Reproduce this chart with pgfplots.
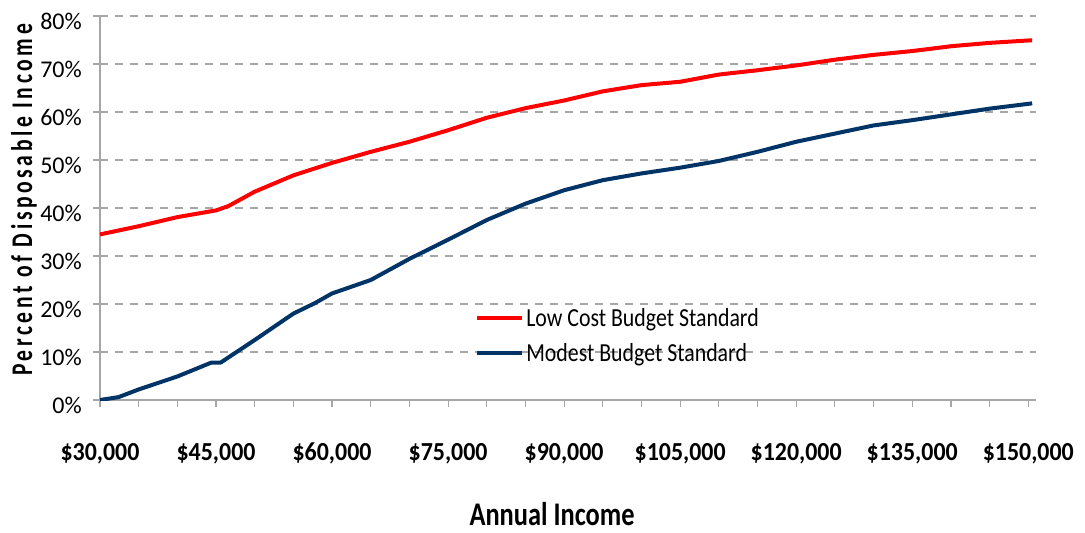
\documentclass[border=0pt]{standalone}
\usepackage{pgfplots}
\pgfplotsset{compat=1.18}
\usepackage{fontspec}
\setmainfont{Carlito}
\newfontfamily\ytickfont{Carlito}
\newfontfamily\xtickfont{Carlito}[FakeStretch=0.92]
\newfontfamily\legfont{Carlito}[FakeStretch=0.84]
\newfontfamily\xlabfont{Carlito}[FakeStretch=0.8]
\newfontfamily\ylabfont{Carlito}[FakeStretch=0.72, LetterSpace=12]

\definecolor{lowred}{RGB}{255,0,0}
\definecolor{modblue}{RGB}{0,51,102}
\definecolor{axisgray}{RGB}{166,166,166}

% percent of disposable income
\pgfplotstableread{
income  pct
30000   34.5
35000   36.2
40000   38.1
45000   39.5
46600   40.4
50000   43.4
55000   46.8
60000   49.4
65000   51.7
70000   53.8
75000   56.2
80000   58.8
85000   60.8
90000   62.4
95000   64.3
100000  65.6
105000  66.3
110000  67.8
115000  68.7
120000  69.7
125000  70.9
130000  71.9
135000  72.7
140000  73.7
145000  74.4
150000  74.9
150500  74.9
}\lowcost

\pgfplotstableread{
income  pct
30000   0.0
32400   0.6
35000   2.2
40000   4.9
44400   7.8
45600   7.8
50000   12.5
55000   18.0
57800   20.2
60000   22.2
65000   25.0
70000   29.4
75000   33.4
80000   37.5
85000   40.9
90000   43.7
95000   45.8
100000  47.2
105000  48.4
110000  49.8
115000  51.7
120000  53.8
125000  55.5
130000  57.2
135000  58.3
140000  59.5
145000  60.7
150000  61.7
150500  61.8
}\modest

\begin{document}
\begin{tikzpicture}
\begin{axis}[
  scale only axis,
  width=936pt, height=384pt,
  xmin=30000, xmax=151000,
  ymin=0, ymax=80,
  axis lines=left,
  axis line style={-, draw=axisgray, line width=1.2pt},
  tick align=outside,
  major tick length=7pt, minor tick length=7pt,
  tick style={draw=axisgray, line width=1.2pt},
  scaled x ticks=false,
  xtick={30000,45000,...,150000},
  minor x tick num=2,
  xticklabels={{\$30,000},{\$45,000},{\$60,000},{\$75,000},{\$90,000},{\$105,000},{\$120,000},{\$135,000},{\$150,000}},
  ytick={0,10,...,80},
  yticklabels={0\%,10\%,20\%,30\%,40\%,50\%,60\%,70\%,80\%},
  x tick label style={font={\fontsize{26}{30}\selectfont\xtickfont\bfseries}, anchor=base, yshift=-53pt, inner sep=0pt},
  y tick label style={font={\fontsize{24}{28}\selectfont\ytickfont}, anchor=base east, xshift=-11pt, yshift=-13pt, inner sep=0pt},
  ymajorgrids,
  grid style={draw=axisgray, line width=1.2pt, dash pattern=on 8pt off 7pt},
  xlabel={Annual Income},
  xlabel style={at={(axis description cs:0.483,-0.328)}, anchor=base, inner sep=0pt,
    font={\fontsize{33}{38}\selectfont\xlabfont\bfseries}},
  ylabel={Percent of Disposable Income},
  ylabel style={at={(axis description cs:-0.0724,0.521)}, anchor=base, inner sep=0pt,
    font={\fontsize{30}{34}\selectfont\ylabfont\bfseries}},
  legend style={draw=none, fill=none, at={(axis description cs:0.4007,0.245)}, anchor=north west,
    font={\fontsize{26}{30}\selectfont\legfont}, row sep=12pt, inner sep=0pt},
  legend cell align=left,
  legend image code/.code={\draw[#1] (0pt,0pt) -- (45pt,0pt);},
]
\addplot[lowred, line width=4pt, line join=round] table[x=income, y=pct] {\lowcost};
\addlegendentry{Low Cost Budget Standard}
\addplot[modblue, line width=4pt, line join=round] table[x=income, y=pct] {\modest};
\addlegendentry{Modest Budget Standard}
\end{axis}
\pgfresetboundingbox
\useasboundingbox (current axis.south west) ++(-100pt,-133pt) rectangle ++(1085pt,533pt);
\end{tikzpicture}
\end{document}
